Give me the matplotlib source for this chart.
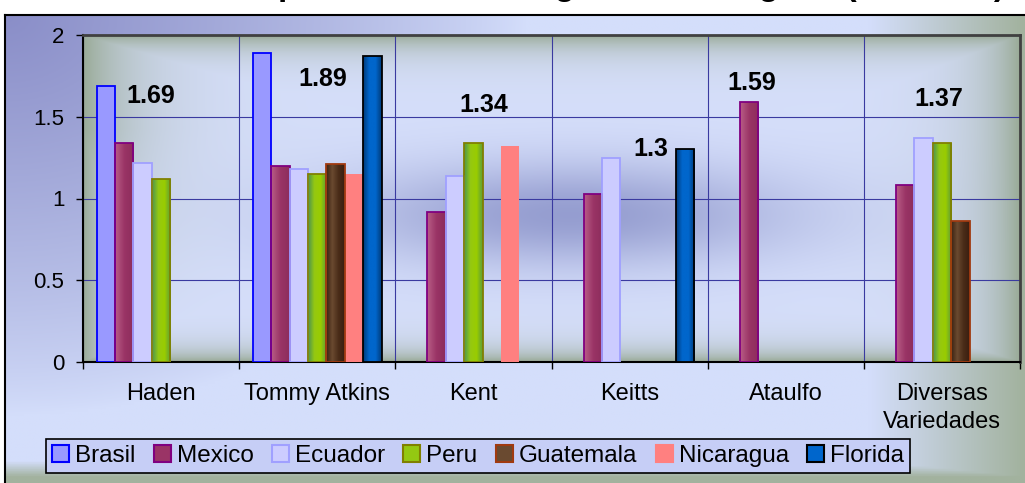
import numpy as np
import matplotlib.pyplot as plt
from matplotlib.colors import LinearSegmentedColormap, to_rgb
from matplotlib.patches import Patch

plt.rcParams['font.family'] = ['Liberation Sans', 'DejaVu Sans']

categories = ['Haden', 'Tommy Atkins', 'Kent', 'Keitts', 'Ataulfo', 'Diversas\nVariedades']
series = ['Brasil', 'Mexico', 'Ecuador', 'Peru', 'Guatemala', 'Nicaragua', 'Florida']
nan = np.nan
brasil = [1.69, 1.89, nan, nan, nan, nan]
mexico = [1.34, 1.20, 0.92, 1.03, 1.59, 1.08]
ecuador = [1.22, 1.18, 1.14, 1.25, nan, 1.37]
peru = [1.12, 1.15, 1.34, nan, nan, 1.34]
guatemala = [nan, 1.21, nan, nan, nan, 0.86]
nicaragua = [nan, 1.15, 1.32, nan, nan, nan]
florida = [nan, 1.87, nan, 1.30, nan, nan]
top_labels = ['1.69', '1.89', '1.34', '1.3', '1.59', '1.37']
title = 'Precios de Importación de Mango desde Origen   (US$/Kilo)'

values = [brasil, mexico, ecuador, peru, guatemala, nicaragua, florida]

# face colour, edge colour, horizontal gradient (or None)
styles = [
    ('#9999ff', '#0000ff', None),
    ('#993366', '#800080', ['#b85e86', '#9a3466', '#8c2d5c']),
    ('#ccccff', '#a0a0ff', None),
    ('#99cc00', '#808000', ['#4c9450', '#94c812', '#9acc00', '#5c9c3c']),
    ('#4a2c18', '#a03a10', ['#3a2212', '#6a4a30', '#4a2c18', '#3a1e10']),
    ('#ff8080', 'none', None),
    ('#0066cc', '#000000', ['#003a78', '#0066cc', '#0066cc', '#003a78']),
]

# where the bold labels sit (x offset inside the category, y)
label_dx = [0.433, 0.538, 0.564, 0.634, 0.284, 0.478]
label_y = [1.627, 1.733, 1.570, 1.305, 1.707, 1.611]

W, H = 1025, 483
fig = plt.figure(figsize=(W / 100, H / 100), dpi=100)

# outer chart area: purple in the top-left corner, grey-green at right and bottom
bg = fig.add_axes([5 / W, 0, 1 - 5 / W, 468 / H], zorder=-1)
X, Y = np.meshgrid(np.linspace(5, W, 400), np.linspace(15, H, 200))
c_purple, c_mid, c_green = np.array(to_rgb('#8a8ec8')), np.array(to_rgb('#d4defb')), np.array(to_rgb('#a2b29e'))
wp = np.clip(1 - np.sqrt(((X - 5) / 520) ** 2 + ((Y - 15) / 400) ** 2), 0, 1) ** 0.8
wgo = np.maximum(np.clip((X - 870) / 155, 0, 1), np.clip((Y - 462) / 16, 0, 1))
out = c_mid * (1 - wp[..., None]) + c_purple * wp[..., None]
out = out * (1 - wgo[..., None]) + c_green * wgo[..., None]
bg.imshow(out, extent=(0, 1, 0, 1), aspect='auto')
bg.set_xticks([]); bg.set_yticks([])
for s in ['bottom', 'right']:
    bg.spines[s].set_visible(False)
for s in ['left', 'top']:
    bg.spines[s].set_linewidth(1.5)

# title sits above the picture, only its descenders show
fig.text(61 / W, 1 + 5.5 / H, title, fontsize=24, fontweight='bold', ha='left', va='baseline')

ax = fig.add_axes([83 / W, (H - 362) / H, (1020 - 83) / W, (362 - 35) / H])

# plot area background
u, v = np.meshgrid(np.linspace(0, 1, 500), np.linspace(1, 0, 250))
base = np.array(to_rgb('#d6dffb'))
green = np.array(to_rgb('#9aab98'))
blue = np.array(to_rgb('#8088c2'))
wg = np.maximum.reduce([np.exp(-(1 - v) / 0.05), np.exp(-v / 0.04),
                        np.exp(-u / 0.03), np.exp(-u / 0.06) * np.clip(v * 1.4, 0, 1),
                        np.exp(-(1 - u) / 0.045)])
wb = 0.75 * np.exp(-((u - 0.52) / 0.24) ** 2 - ((v - 0.45) / 0.16) ** 2)
img = base * (1 - wb[..., None]) + blue * wb[..., None]
img = img * (1 - wg[..., None]) + green * wg[..., None]
ax.imshow(img, extent=(0, 6, 0, 2), aspect='auto', zorder=0)

n = len(series)
bw = 0.118
start = (1 - n * bw) / 2
x = np.arange(len(categories))
for i, (vals, (fc, ec, grad)) in enumerate(zip(values, styles)):
    pos = x + start + (i + 0.5) * bw
    bars = ax.bar(pos, vals, bw, color=fc, edgecolor='none', zorder=3)
    if grad:
        cmap = LinearSegmentedColormap.from_list('g%d' % i, grad)
        for b in bars:
            if np.isnan(b.get_height()):
                continue
            im = ax.imshow(np.linspace(0, 1, 64).reshape(1, -1), cmap=cmap, aspect='auto',
                           extent=(b.get_x(), b.get_x() + bw, 0, b.get_height()), zorder=3.5)
            im.set_clip_path(b)
    ax.bar(pos, vals, bw, facecolor='none', edgecolor=ec, linewidth=1.3, zorder=4)

for k, lab in enumerate(top_labels):
    ax.text(k + label_dx[k], label_y[k], lab, fontsize=18, fontweight='bold',
            ha='center', va='center', zorder=5)

ax.set_xlim(0, 6)
ax.set_ylim(0, 2)
ax.set_yticks([0, 0.5, 1, 1.5, 2])
ax.set_yticklabels(['0', '0.5', '1', '1.5', '2'])
ax.set_xticks(np.arange(7))
ax.set_xticklabels([])
ax.set_xticks(x + 0.5, minor=True)
ax.set_xticklabels(categories, minor=True, fontsize=17, linespacing=1.35)
ax.tick_params(axis='x', which='major', length=5, width=1, direction='out')
ax.tick_params(axis='x', which='minor', length=0, pad=15)
ax.tick_params(axis='y', length=5, width=1, direction='out', labelsize=16, pad=8.5)
ax.grid(True, which='major', color='#3a3aa0', linewidth=0.8)
for gl in ax.get_xgridlines() + ax.get_ygridlines():
    gl.set_zorder(1)
for s in ['left', 'bottom']:
    ax.spines[s].set_linewidth(1.5)
for s in ['top', 'right']:
    ax.spines[s].set_color('#404040')
    ax.spines[s].set_linewidth(2)

handles = [Patch(facecolor=(st[2][1] if st[2] else st[0]), edgecolor=(st[1] if st[1] != 'none' else st[0]),
                 linewidth=1.5, label=name) for name, st in zip(series, styles)]
leg = fig.legend(handles=handles, loc='lower left', bbox_to_anchor=(46 / W, 10 / H), ncol=7,
                 fontsize=17.5, frameon=True, fancybox=False, edgecolor='black', facecolor='#c6cef6',
                 framealpha=1, handlelength=0.7, handleheight=0.7, handletextpad=0.25,
                 columnspacing=0.75, borderpad=0.25, borderaxespad=0)
leg.get_frame().set_linewidth(1.2)

fig.savefig('out.png', dpi=100)
